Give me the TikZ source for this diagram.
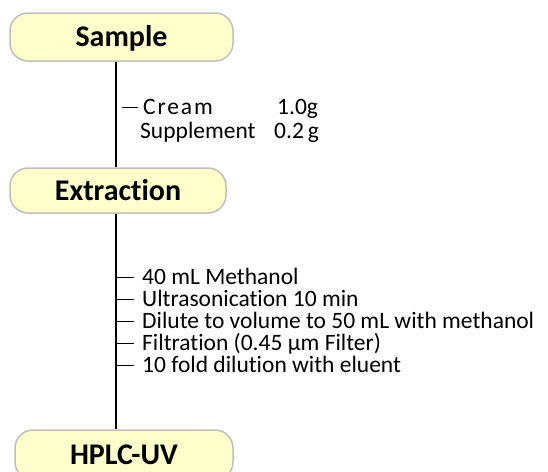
\documentclass[tikz,border=0pt]{standalone}
\usepackage{fontspec}
\setmainfont{Carlito}[Ligatures={NoCommon}]
\definecolor{boxfill}{HTML}{FFFFCC}
\definecolor{boxline}{HTML}{BFBFBF}
\begin{document}
\begin{tikzpicture}[x=1pt,y=-1pt,
  stage/.style={draw=boxline, line width=1.5pt, fill=boxfill, rounded corners=18pt,
    inner sep=0pt, text height=19pt, text depth=0pt,
    font=\fontsize{30}{36}\selectfont\bfseries},
  item/.style={anchor=west, inner sep=0pt, text height=14.5pt, text depth=0pt,
    font=\fontsize{23.5}{27}\selectfont},
  trunkline/.style={line width=1.2pt, black},
  tickline/.style={line width=1pt, black}]
\useasboundingbox (0,0) rectangle (548,471);
\clip (0,0) rectangle (548,471);
\coordinate (trunk) at (116,0);
% stages
\node[stage, minimum width=223pt, minimum height=48pt] (sample) at (121.5,37) {Sample};
\node[stage, minimum width=216pt, minimum height=45pt] (extraction) at (118,190.5) {Extraction};
\node[stage, minimum width=218pt, minimum height=50pt] (hplc) at (124,455) {HPLC-UV};
% trunks
\draw[trunkline] (sample.south -| trunk) -- (extraction.north -| trunk);
\draw[trunkline] (extraction.south -| trunk) -- (hplc.north -| trunk);
% sample items
\node[item] (cream) at (143,107) {\addfontfeature{LetterSpace=8}Cream};
\node[item] (creamamt) at (277,107) {1.0g};
\node[item] (supp) at (140,131) {Supplement};
\node[item] (suppamt) at (274,131) {0.2\,g};
\draw[tickline] ([xshift=-21pt]cream.west) -- ([xshift=-5pt]cream.west);
% extraction items
\node[item] (s1) at (142,277) {40 mL Methanol};
\node[item] (s2) at (142,299) {Ultrasonication 10 min};
\node[item] (s3) at (142,321) {Dilute to volume to 50 mL with methanol};
\node[item] (s4) at (142,343) {Filtration (0.45 µm Filter)};
\node[item] (s5) at (142,365) {10 fold dilution with eluent};
\foreach \s in {s1,s2,s3,s4,s5}{
  \draw[tickline] ([xshift=1pt]\s.west -| trunk) -- ([xshift=-8pt]\s.west);
}
\end{tikzpicture}
\end{document}
